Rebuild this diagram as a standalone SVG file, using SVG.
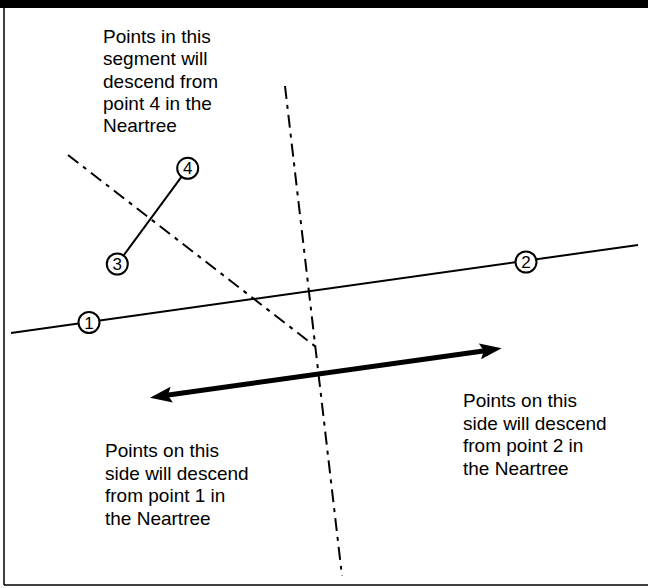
<svg xmlns="http://www.w3.org/2000/svg" width="648" height="588" viewBox="0 0 648 588">
<style>
.lbl{font-family:"Liberation Sans",Arial,sans-serif;font-size:19px;fill:#000}
.num{font-family:"Liberation Sans",Arial,sans-serif;font-size:17px;fill:#000;text-anchor:middle}
.solid{stroke:#000;stroke-width:2;fill:none}
.dd{stroke:#000;stroke-width:2;fill:none;stroke-dasharray:13 6 4 6}
.node{fill:#fff;stroke:#000;stroke-width:2}
</style>
<defs>
<marker id="ah" markerUnits="userSpaceOnUse" markerWidth="22" markerHeight="16" viewBox="0 0 22 16" refX="7" refY="8" orient="auto-start-reverse">
<path d="M0,0 L22,8 L0,16 L4,8 z" fill="#000"/>
</marker>
</defs>
<rect x="0" y="0" width="648" height="8" fill="#000"/>
<line x1="4" y1="8" x2="4" y2="585" stroke="#000" stroke-width="1.5"/>
<line x1="4" y1="585" x2="648" y2="585" stroke="#000" stroke-width="1.5"/>
<g id="connectors">
<line class="solid" x1="11" y1="333" x2="638" y2="245"/>
<line class="solid" x1="117.3" y1="264" x2="187.7" y2="168.3"/>
<line class="dd" x1="68" y1="155" x2="316" y2="347"/>
<line class="dd" x1="285" y1="86" x2="342" y2="576"/>
<line stroke="#000" stroke-width="5" x1="164.85" y1="395.6" x2="486.85" y2="350.4" marker-start="url(#ah)" marker-end="url(#ah)"/>
</g>
<g id="node1"><circle class="node" cx="89" cy="322.5" r="10.5"/><text class="num" x="89" y="328.5">1</text></g>
<g id="node2"><circle class="node" cx="526" cy="262" r="10.5"/><text class="num" x="526" y="268">2</text></g>
<g id="node3"><circle class="node" cx="117.3" cy="264" r="10.5"/><text class="num" x="117.3" y="270">3</text></g>
<g id="node4"><circle class="node" cx="187.7" cy="168.3" r="10.5"/><text class="num" x="187.7" y="174.3">4</text></g>
<g id="label-top"><text class="lbl"><tspan x="103" y="43">Points in this</tspan><tspan x="103" y="65">segment will</tspan><tspan x="103" y="87.5">descend from</tspan><tspan x="103" y="109.5">point 4 in the</tspan><tspan x="103" y="132">Neartree</tspan></text></g>
<g id="label-right"><text class="lbl"><tspan x="463" y="407">Points on this</tspan><tspan x="463" y="429.5">side will descend</tspan><tspan x="463" y="452">from point 2 in</tspan><tspan x="463" y="475">the Neartree</tspan></text></g>
<g id="label-left"><text class="lbl"><tspan x="105" y="457">Points on this</tspan><tspan x="105" y="479.5">side will descend</tspan><tspan x="105" y="502">from point 1 in</tspan><tspan x="105" y="525">the Neartree</tspan></text></g>
</svg>
